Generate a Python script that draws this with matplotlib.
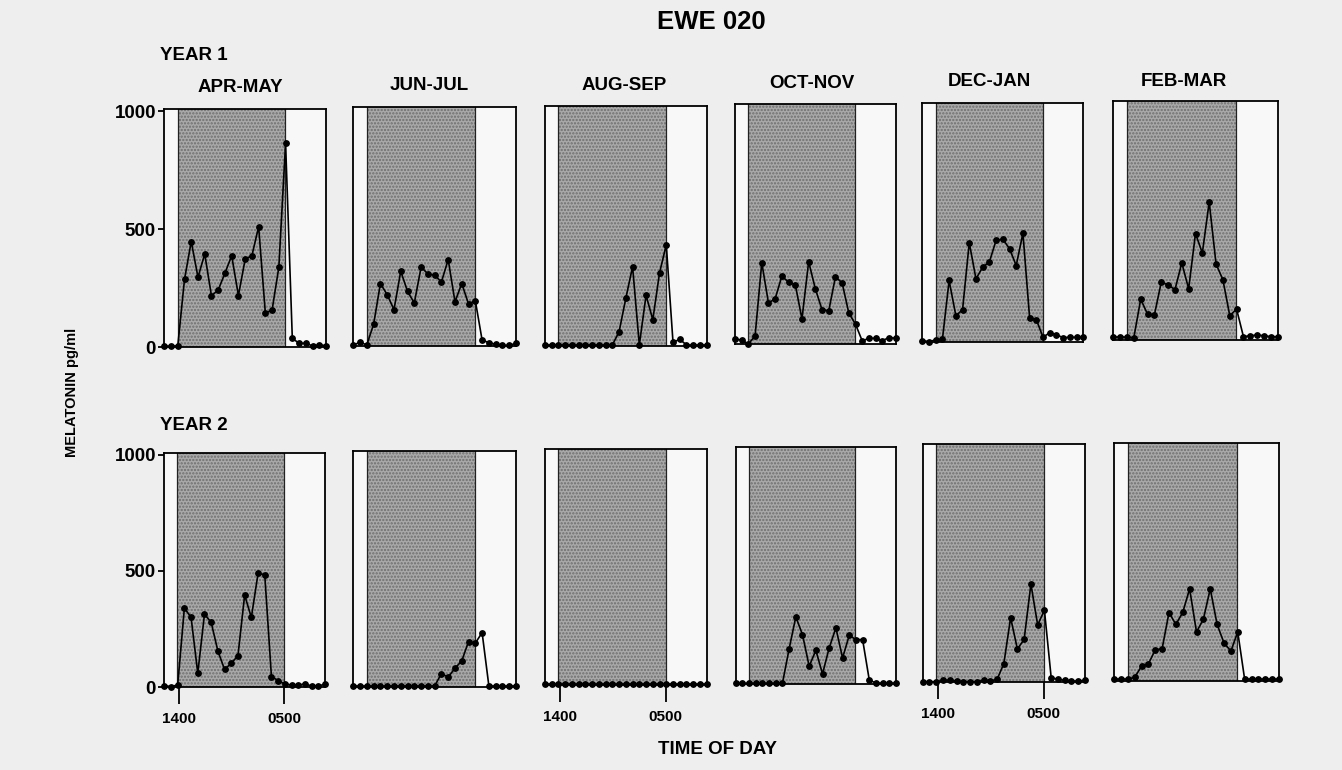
import matplotlib
matplotlib.use("Agg")
import matplotlib.pyplot as plt
import numpy as np

plt.rcParams['font.family'] = ['Liberation Sans', 'DejaVu Sans']
plt.rcParams['font.weight'] = 'bold'
plt.rcParams['hatch.linewidth'] = 1.1
plt.rcParams['hatch.color'] = '#6e6e6e'

W, H = 1342, 770

# sample index (25 blood samples across the day)
sample_idx = list(range(25))
lights_off = 1.97   # ~1400
lights_on = 17.93   # ~0500
tick_pos = [2.2, 17.9]
tick_labels = ['1400', '0500']
yticks = [0, 500, 1000]

months = ['APR-MAY', 'JUN-JUL', 'AUG-SEP', 'OCT-NOV', 'DEC-JAN', 'FEB-MAR']

# YEAR 1 melatonin (pg/ml)
y1_apr_may = [5, 5, 6, 288, 448, 297, 395, 218, 243, 314, 388, 219, 373, 388, 511, 144, 158, 339, 864, 38, 17, 17, 6, 10, 7]
y1_jun_jul = [5, 15, 5, 92, 263, 216, 153, 315, 230, 181, 332, 304, 298, 270, 364, 186, 263, 177, 191, 25, 14, 7, 3, 3, 11]
y1_aug_sep = [3, 3, 3, 3, 3, 3, 3, 3, 3, 3, 3, 59, 200, 332, 3, 212, 109, 306, 424, 14, 27, 3, 3, 3, 3]
y1_oct_nov = [20, 17, 0, 34, 342, 172, 191, 285, 260, 250, 105, 346, 232, 144, 140, 282, 257, 130, 83, 13, 24, 24, 14, 27, 24]
y1_dec_jan = [7, 3, 10, 13, 260, 112, 137, 419, 267, 316, 338, 429, 434, 394, 323, 459, 102, 95, 21, 41, 31, 20, 21, 21, 21]
y1_feb_mar = [11, 14, 11, 10, 172, 109, 106, 243, 233, 212, 325, 216, 449, 367, 582, 321, 254, 103, 130, 14, 18, 21, 18, 14, 14]

# YEAR 2 melatonin (pg/ml)
y2_apr_may = [7, 3, 10, 341, 300, 60, 314, 279, 156, 77, 103, 136, 396, 300, 489, 484, 46, 29, 14, 10, 10, 14, 6, 6, 13]
y2_jun_jul = [3, 3, 3, 3, 3, 3, 3, 3, 3, 3, 3, 3, 3, 56, 41, 79, 110, 193, 186, 231, 3, 3, 3, 3, 3]
y2_aug_sep = [3, 3, 3, 3, 3, 3, 3, 3, 3, 3, 3, 3, 3, 3, 3, 3, 3, 3, 3, 3, 3, 3, 3, 3, 3]
y2_oct_nov = [3, 3, 3, 3, 3, 3, 3, 3, 150, 286, 210, 76, 143, 43, 154, 239, 111, 207, 189, 189, 17, 4, 4, 4, 4]
y2_dec_jan = [0, 0, 0, 6, 6, 3, 0, 0, 0, 6, 3, 10, 77, 271, 139, 179, 414, 241, 303, 17, 10, 6, 3, 3, 6]
y2_feb_mar = [7, 7, 7, 14, 61, 71, 131, 136, 289, 239, 290, 390, 207, 261, 390, 239, 160, 126, 207, 7, 7, 7, 7, 7, 7]

year1 = [y1_apr_may, y1_jun_jul, y1_aug_sep, y1_oct_nov, y1_dec_jan, y1_feb_mar]
year2 = [y2_apr_may, y2_jun_jul, y2_aug_sep, y2_oct_nov, y2_dec_jan, y2_feb_mar]

# panel boxes in pixels: left, right, top, bottom
row1_boxes = [(164.3, 326, 109.3, 347.3), (353.3, 516, 106.7, 346), (545, 706.7, 105.7, 345.7),
              (735, 895.7, 104.3, 344), (922.3, 1083.3, 102.7, 342.3), (1113.3, 1277.7, 101, 340)]
row2_boxes = [(164.3, 325, 452.7, 687.3), (353.3, 516, 450.7, 686.7), (545, 706.7, 449, 685),
              (735.7, 896, 447.3, 684), (922.7, 1085, 444, 681.7), (1114, 1279, 443.3, 680.7)]

title_pos = [(240, 88), (429, 86), (624, 86), (812, 84), (989, 82), (1184, 81)]

fig = plt.figure(figsize=(W / 100, H / 100), dpi=100)
fig.patch.set_facecolor('#eeeeee')


def make_panel(box, vals, ylab, xlab):
    l, r, t, b = box
    ax = fig.add_axes([l / W, 1 - b / H, (r - l) / W, (b - t) / H])
    ax.set_facecolor('#f8f8f8')
    ax.axvspan(lights_off, lights_on, facecolor='#a9a9a9', hatch='.....',
               edgecolor='#6e6e6e', linewidth=0, zorder=1)
    ax.axvline(lights_off, color='#222222', lw=0.9, zorder=2)
    ax.axvline(lights_on, color='#222222', lw=0.9, zorder=2)
    ax.plot(sample_idx, vals, color='black', lw=1.2, marker='o', ms=3.9,
            zorder=5, clip_on=False)
    ax.set_xlim(0, 24)
    ax.set_ylim(0, 1008)
    for s in ax.spines.values():
        s.set_linewidth(1.3)
        s.set_color('black')
        s.set_zorder(4)
    if ylab:
        ax.set_yticks(yticks)
        ax.set_yticklabels([str(v) for v in yticks], fontsize=13.5, fontweight='bold')
        ax.tick_params(axis='y', direction='out', length=4, width=1.3, pad=2)
    else:
        ax.set_yticks([])
    if xlab:
        ax.set_xticks(tick_pos)
        ax.set_xticklabels(tick_labels, fontsize=11, fontweight='bold')
        ax.tick_params(axis='x', direction='out', length=12, width=1.3, pad=6)
    else:
        ax.set_xticks([])
    return ax


for i in range(6):
    make_panel(row1_boxes[i], year1[i], i == 0, False)
    make_panel(row2_boxes[i], year2[i], i == 0, i in (0, 2, 4))
    fig.text(title_pos[i][0] / W, 1 - title_pos[i][1] / H, months[i], ha='center',
             va='center', fontsize=13.5, fontweight='bold')

fig.text(711 / W, 1 - 22 / H, 'EWE 020', ha='center', va='center', fontsize=18.5, fontweight='bold')
fig.text(160 / W, 1 - 56 / H, 'YEAR 1', ha='left', va='center', fontsize=13.5, fontweight='bold')
fig.text(160 / W, 1 - 425 / H, 'YEAR 2', ha='left', va='center', fontsize=13.5, fontweight='bold')
fig.text(72 / W, 1 - 392 / H, 'MELATONIN pg/ml', ha='center', va='center', rotation=90,
         fontsize=10.5, fontweight='bold')
fig.text(717 / W, 1 - 750 / H, 'TIME OF DAY', ha='center', va='center', fontsize=13.5, fontweight='bold')

fig.savefig('out.png', dpi=100, facecolor=fig.get_facecolor())
